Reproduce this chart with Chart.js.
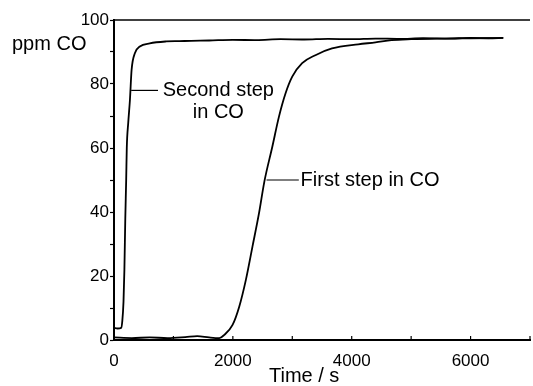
<!DOCTYPE html>
<html>
<head>
<meta charset="utf-8">
<script src="https://cdn.jsdelivr.net/npm/chart.js@4"></script>
<style>
    html, body { margin: 0; padding: 0; background: #fff; }
    canvas { display: block; }
</style>
</head>
<body>
<canvas id="grafico" width="533" height="386"></canvas>
<script>
// Second step in CO (time in s, ppm)
const tempiSecondo = [0, 60, 120, 140, 160, 175, 190, 205, 215, 240, 268, 296, 351, 435, 602, 880, 1100, 1300, 1600, 2000, 2400, 2800, 3200, 3600, 4000, 4400, 4800, 5200, 5600, 6000, 6300, 6550];
const ppmSecondo = [3.8, 3.6, 3.8, 6, 12, 22, 38, 50, 60, 68, 75, 84.4, 89.6, 91.7, 92.7, 93.3, 93.4, 93.5, 93.6, 93.8, 93.7, 94.0, 93.9, 94.1, 94.0, 94.2, 94.1, 94.3, 94.2, 94.4, 94.3, 94.4];

// First step in CO
const tempiPrimo = [0, 300, 600, 900, 1200, 1400, 1600, 1773, 1856, 1995, 2107, 2219, 2330, 2441, 2530, 2664, 2776, 2887, 2999, 3166, 3389, 3668, 4110, 4400, 4670, 5000, 5500, 6000, 6550];
const ppmPrimo = [0.8, 0.6, 0.8, 0.6, 0.9, 1.2, 0.8, 0.6, 1.6, 4.7, 10.4, 18.8, 29.2, 39.7, 49.5, 60.4, 69.8, 77.1, 82.3, 86.5, 89, 91.1, 92.4, 93, 93.7, 94, 94.2, 94.3, 94.4];

// Etichette (coordinate nei dati)
const noteSecondo = { righe: ['Second step', 'in CO'], punto: [272, 78], fineLinea: 740, testo: [1756, 78], passo: 7 };
const notePrimo = { righe: ['First step in CO'], punto: [2550, 50], fineLinea: 3110, testo: [3140, 50] };

const FONT = "'Liberation Sans', Arial, Helvetica, sans-serif";

function punti(tempi, valori) {
    return tempi.map((t, i) => ({ x: t, y: valori[i] }));
}

const decorazioni = {
    id: 'decorazioni',
    afterDraw(chart) {
        const { ctx, chartArea, scales: { x, y } } = chart;
        ctx.save();
        ctx.strokeStyle = '#000';
        ctx.fillStyle = '#000';

        // bordo superiore
        ctx.lineWidth = 1.5;
        ctx.beginPath();
        ctx.moveTo(chartArea.left, chartArea.top);
        ctx.lineTo(chartArea.right, chartArea.top);
        ctx.stroke();

        // tacche asse x verso l'interno
        ctx.lineWidth = 1.2;
        x.ticks.forEach(t => {
            const px = x.getPixelForValue(t.value);
            ctx.beginPath();
            ctx.moveTo(px, chartArea.bottom);
            ctx.lineTo(px, chartArea.bottom - 4);
            ctx.stroke();
        });

        // linee guida delle etichette
        ctx.lineWidth = 1.2;
        [noteSecondo, notePrimo].forEach(n => {
            const yy = y.getPixelForValue(n.punto[1]);
            ctx.beginPath();
            ctx.moveTo(x.getPixelForValue(n.punto[0]) + 1, yy);
            ctx.lineTo(x.getPixelForValue(n.fineLinea), yy);
            ctx.stroke();
        });

        ctx.font = '20px ' + FONT;
        ctx.textBaseline = 'middle';
        ctx.textAlign = 'center';
        noteSecondo.righe.forEach((r, i) => {
            ctx.fillText(r, x.getPixelForValue(noteSecondo.testo[0]), y.getPixelForValue(noteSecondo.testo[1] - i * noteSecondo.passo));
        });
        ctx.textAlign = 'left';
        ctx.fillText(notePrimo.righe[0], x.getPixelForValue(notePrimo.testo[0]), y.getPixelForValue(notePrimo.testo[1]));

        // titoli assi
        ctx.fillText('ppm CO', 12, y.getPixelForValue(92.2));
        ctx.textAlign = 'center';
        ctx.fillText('Time / s', x.getPixelForValue(3200), 376);
        ctx.restore();
    }
};

const ctx = document.getElementById('grafico').getContext('2d');
new Chart(ctx, {
    type: 'line',
    data: {
        datasets: [{
            label: 'Second step in CO',
            data: punti(tempiSecondo, ppmSecondo),
            borderColor: '#000',
            borderWidth: 1.8,
            pointRadius: 0,
            cubicInterpolationMode: 'monotone'
        }, {
            label: 'First step in CO',
            data: punti(tempiPrimo, ppmPrimo),
            borderColor: '#000',
            borderWidth: 1.8,
            pointRadius: 0,
            cubicInterpolationMode: 'monotone'
        }]
    },
    options: {
        responsive: false,
        animation: false,
        layout: { padding: { top: 20, right: 0, left: 0, bottom: 0 } },
        plugins: { legend: { display: false }, tooltip: { enabled: false } },
        scales: {
            x: {
                type: 'linear',
                min: 0,
                max: 7000,
                ticks: {
                    stepSize: 1000,
                    autoSkip: false,
                    maxRotation: 0,
                    padding: 3,
                    color: '#000',
                    font: { family: FONT, size: 17 },
                    callback: v => (v % 2000 === 0 ? v : '')
                },
                grid: { display: false },
                border: { color: '#000', width: 2 },
                afterFit: s => { s.height = 46; }
            },
            y: {
                min: 0,
                max: 100,
                ticks: {
                    stepSize: 10,
                    autoSkip: false,
                    padding: 1,
                    color: '#000',
                    font: { family: FONT, size: 17 },
                    callback: v => (v % 20 === 0 ? v : '')
                },
                grid: { drawOnChartArea: false, tickLength: 4, tickColor: '#000', tickWidth: 1.2 },
                border: { color: '#000', width: 2 },
                afterFit: s => { s.width = 114; }
            }
        }
    },
    plugins: [decorazioni]
});
</script>
</body>
</html>
